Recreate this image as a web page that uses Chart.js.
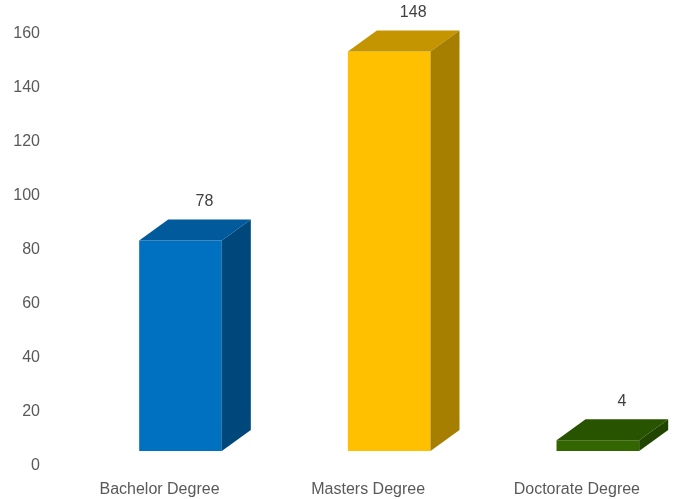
<!DOCTYPE html>
<html>
<head>
<meta charset="utf-8">
<script src="https://cdn.jsdelivr.net/npm/chart.js@4"></script>
<style>
    body { margin: 0; background: #ffffff; }
    #wrap { width: 675px; height: 499px; }
</style>
</head>
<body>
<div id="wrap"><canvas id="degreeChart" width="675" height="499"></canvas></div>
<script>
const categories = ["Bachelor Degree", "Masters Degree", "Doctorate Degree"];
const counts = [78, 148, 4];
const yTicks = [0, 20, 40, 60, 80, 100, 120, 140, 160];

const frontColors = ["#0070C0", "#FFC000", "#336600"];
const topColors = ["#005A9C", "#C49500", "#285400"];
const sideColors = ["#00487C", "#A67E00", "#1F4500"];

// 3d depth of the boxes, in pixels
const DEPTH_X = 29;
const DEPTH_Y = 21;
// the boxes stand a bit in front of the axis floor (in value units)
const FLOOR_SHIFT = 15 / 2.7;

const boxPlugin = {
    id: "box3d",
    afterDatasetsDraw(chart) {
        const ctx = chart.ctx;
        const meta = chart.getDatasetMeta(0);
        ctx.save();
        meta.data.forEach((bar, i) => {
            const p = bar.getProps(["x", "y", "base", "width"], true);
            const left = p.x - p.width / 2;
            const right = p.x + p.width / 2;
            const top = p.y;
            const bottom = p.base;

            // top face
            ctx.fillStyle = topColors[i];
            ctx.beginPath();
            ctx.moveTo(left, top);
            ctx.lineTo(left + DEPTH_X, top - DEPTH_Y);
            ctx.lineTo(right + DEPTH_X, top - DEPTH_Y);
            ctx.lineTo(right, top);
            ctx.closePath();
            ctx.fill();

            // right side
            ctx.fillStyle = sideColors[i];
            ctx.beginPath();
            ctx.moveTo(right, top);
            ctx.lineTo(right + DEPTH_X, top - DEPTH_Y);
            ctx.lineTo(right + DEPTH_X, bottom - DEPTH_Y);
            ctx.lineTo(right, bottom);
            ctx.closePath();
            ctx.fill();

            // value label
            ctx.fillStyle = "#404040";
            ctx.font = "16px 'Liberation Sans', Arial, sans-serif";
            ctx.textAlign = "center";
            ctx.textBaseline = "alphabetic";
            ctx.fillText(String(counts[i]), p.x + 24, top - DEPTH_Y - 13);
        });
        ctx.restore();
    }
};

new Chart(document.getElementById("degreeChart"), {
    type: "bar",
    data: {
        labels: categories,
        datasets: [{
            data: counts,
            backgroundColor: frontColors,
            borderWidth: 0,
            yAxisID: "y2",
            clip: false,
            categoryPercentage: 1,
            barPercentage: 0.396
        }]
    },
    options: {
        responsive: false,
        animation: false,
        layout: { padding: { left: 0, right: 75.5, top: 34, bottom: 0 } },
        plugins: {
            legend: { display: false },
            tooltip: { enabled: false }
        },
        scales: {
            x: {
                offset: false,
                afterFit(scale) {
                    scale.height = 33;
                },
                grid: { display: false, drawTicks: false },
                border: { display: false },
                ticks: {
                    color: "#595959",
                    font: { family: "'Liberation Sans', Arial, sans-serif", size: 16 },
                    padding: 14,
                    labelOffset: -21,
                    maxRotation: 0,
                    autoSkip: false
                }
            },
            y: {
                min: 0,
                max: 160,
                afterFit(scale) {
                    scale.width = 180.5;
                    scale.paddingTop = 0;
                    scale.paddingBottom = 0;
                },
                afterBuildTicks(scale) { scale.ticks = yTicks.map(v => ({ value: v })); },
                grid: { display: false, drawTicks: false },
                border: { display: false },
                ticks: {
                    color: "#595959",
                    font: { family: "'Liberation Sans', Arial, sans-serif", size: 16 },
                    padding: 140.5
                }
            },
            y2: {
                display: false,
                min: -FLOOR_SHIFT,
                max: 160 - FLOOR_SHIFT
            }
        }
    },
    plugins: [boxPlugin]
});
</script>
</body>
</html>
